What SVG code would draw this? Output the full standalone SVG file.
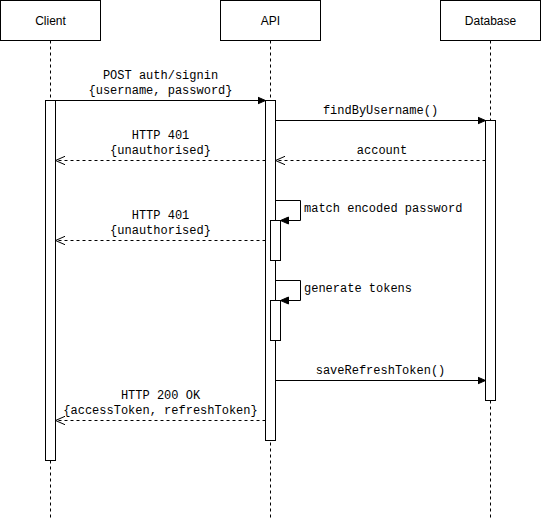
<svg xmlns="http://www.w3.org/2000/svg" width="541" height="521" viewBox="0 0 541 521">
<style>
.box{fill:#fff;stroke:#000;stroke-width:1}
.life{stroke:#000;stroke-width:1;stroke-dasharray:3 3;fill:none}
.act{fill:#fff;stroke:#000;stroke-width:1}
.name{font-family:"Liberation Sans",Arial,sans-serif;font-size:12px;fill:#000;text-anchor:middle}
.msg{stroke:#000;stroke-width:1;fill:none}
.ret{stroke:#000;stroke-width:1;fill:none;stroke-dasharray:3 3}
.lbl{font-family:"Liberation Mono","Courier New",monospace;font-size:12px;fill:#000;text-anchor:middle}
.lbll{font-family:"Liberation Mono","Courier New",monospace;font-size:12px;fill:#000}
</style>
<defs>
<marker id="fill" markerUnits="userSpaceOnUse" markerWidth="10" markerHeight="10" refX="8" refY="4" orient="auto" viewBox="0 0 10 8">
<path d="M0,0.5 L8,4 L0,7.5 Z" fill="#000" stroke="#000" stroke-width="1"/>
</marker>
<marker id="open" markerUnits="userSpaceOnUse" markerWidth="12" markerHeight="12" refX="10" refY="5" orient="auto" viewBox="0 0 12 10">
<path d="M0.5,0.8 L10,5 L0.5,9.2" fill="none" stroke="#000" stroke-width="1"/>
</marker>
</defs>
<g id="client">
<line class="life" x1="50.5" y1="40.5" x2="50.5" y2="520"/>
<rect class="box" x="0.5" y="0.5" width="100" height="40"/>
<text class="name" x="50.5" y="24.5">Client</text>
<rect class="act" x="45.5" y="100.5" width="10" height="360"/>
</g>
<g id="api">
<line class="life" x1="270.5" y1="40.5" x2="270.5" y2="520"/>
<rect class="box" x="220.5" y="0.5" width="100" height="40"/>
<text class="name" x="270.5" y="24.5">API</text>
<rect class="act" x="265.5" y="100.5" width="10" height="340"/>
<rect class="act" x="270.5" y="220.5" width="10" height="40"/>
<rect class="act" x="270.5" y="300.5" width="10" height="40"/>
</g>
<g id="database">
<line class="life" x1="490.5" y1="40.5" x2="490.5" y2="520"/>
<rect class="box" x="440.5" y="0.5" width="100" height="40"/>
<text class="name" x="490.5" y="24.5">Database</text>
<rect class="act" x="485.5" y="120.5" width="10" height="280"/>
</g>
<g id="connectors">
<line class="msg" x1="55.5" y1="100.5" x2="265.5" y2="100.5" marker-end="url(#fill)"/>
<text class="lbl" x="160.5" y="79">POST auth/signin</text>
<text class="lbl" x="160.5" y="94">{username, password}</text>

<line class="msg" x1="275.5" y1="120.5" x2="485.5" y2="120.5" marker-end="url(#fill)"/>
<text class="lbl" x="380.5" y="114">findByUsername()</text>

<line class="ret" x1="485.5" y1="160.5" x2="275.5" y2="160.5" marker-end="url(#open)"/>
<text class="lbl" x="382" y="154">account</text>

<line class="ret" x1="265.5" y1="160.5" x2="55.5" y2="160.5" marker-end="url(#open)"/>
<text class="lbl" x="160.5" y="139">HTTP 401</text>
<text class="lbl" x="160.5" y="154">{unauthorised}</text>

<path class="msg" d="M275.5,200.5 H300.5 V220.5 H280.5" marker-end="url(#fill)"/>
<text class="lbll" x="304" y="212">match encoded password</text>

<line class="ret" x1="265.5" y1="240.5" x2="55.5" y2="240.5" marker-end="url(#open)"/>
<text class="lbl" x="160.5" y="219">HTTP 401</text>
<text class="lbl" x="160.5" y="234">{unauthorised}</text>

<path class="msg" d="M275.5,280.5 H300.5 V300.5 H280.5" marker-end="url(#fill)"/>
<text class="lbll" x="304" y="292">generate tokens</text>

<line class="msg" x1="275.5" y1="380.5" x2="485.5" y2="380.5" marker-end="url(#fill)"/>
<text class="lbl" x="380.5" y="374">saveRefreshToken()</text>

<line class="ret" x1="265.5" y1="420.5" x2="55.5" y2="420.5" marker-end="url(#open)"/>
<text class="lbl" x="160.5" y="399">HTTP 200 OK</text>
<text class="lbl" x="160.5" y="414">{accessToken, refreshToken}</text>
</g>
</svg>
